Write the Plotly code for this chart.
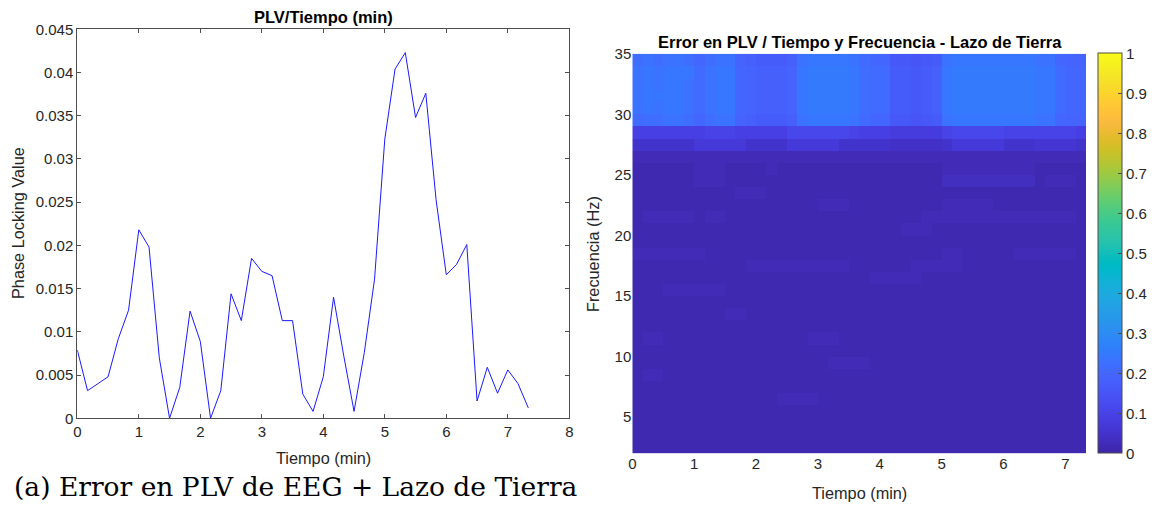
import plotly.graph_objects as go

# ---------------- data ----------------
time_s = [0, 10, 20, 30, 40, 50, 60, 70, 80, 90, 100, 110, 120, 130, 140, 150,
          160, 170, 180, 190, 200, 210, 220, 230, 240, 250, 260, 270, 280, 290,
          300, 310, 320, 330, 340, 350, 360, 370, 380, 390, 400, 410, 420, 430, 440]
plv_e3 = [7.9, 3.2, 4.0, 4.8, 9.2, 12.5, 21.8, 19.8, 7.0, 0.0, 3.6, 12.4, 8.9, 0.0,
          3.2, 14.4, 11.3, 18.5, 17.0, 16.5, 11.3, 11.3, 2.8, 0.8, 4.8, 14.0, 7.2,
          0.8, 7.6, 16.1, 32.3, 40.4, 42.3, 34.8, 37.6, 25.3, 16.6, 17.8, 20.1, 2.0,
          5.9, 2.9, 5.6, 4.0, 1.2]

# heatmap: time edges (s) and frequency edges (Hz)
hm_time_edges_s = [0, 10, 20, 30, 40, 50, 60, 70, 80, 90, 100, 110, 120, 130, 140,
                   150, 160, 170, 180, 190, 200, 210, 220, 230, 240, 250, 260, 270,
                   280, 290, 300, 310, 320, 330, 340, 350, 360, 370, 380, 390, 400,
                   410, 420, 430, 440]
hm_freq_edges = [2, 3, 4, 5, 6, 7, 8, 9, 10, 11, 12, 13, 14, 15, 16, 17, 18, 19, 20,
                 21, 22, 23, 24, 25, 26, 27, 28, 29, 30, 31, 32, 33, 34, 35]

# error values in hundredths, row 0 = 2-3 Hz ... row 32 = 34-35 Hz
err_e2 = [
    [1,1,1,1,1,1,1,1,1,1,1, 1,1,1,1,1,1,1,1,1,1,1, 1,1,1,1,1,1,1,1,1,1,1, 1,1,1,1,1,1,1,1,1,1,1],
    [1,1,1,1,1,1,1,1,1,1,1, 1,1,1,1,1,1,1,1,1,1,1, 1,1,1,1,1,1,1,1,1,1,1, 1,1,1,1,1,1,1,1,1,1,1],
    [1,1,1,1,1,1,1,1,1,1,1, 1,1,1,1,1,1,1,1,1,1,1, 1,1,1,1,1,1,1,1,1,1,1, 1,1,1,1,1,1,1,1,1,1,1],
    [1,1,1,1,1,1,1,1,1,1,1, 1,1,1,1,1,1,1,1,1,1,1, 1,1,1,1,1,1,1,1,1,1,1, 1,1,1,1,1,1,1,1,1,1,1],
    [1,1,1,1,1,1,1,1,1,1,1, 1,1,1,2,2,2,2,1,1,1,1, 1,1,1,1,1,1,1,1,1,1,1, 1,1,1,1,1,1,1,1,1,1,1],
    [1,1,1,1,1,1,1,1,1,1,1, 1,1,1,1,1,1,1,1,1,1,1, 1,1,1,1,1,1,1,1,1,1,1, 1,1,1,1,1,1,1,1,1,1,1],
    [1,2,2,1,1,1,1,1,1,1,1, 1,1,1,1,1,1,1,1,1,1,1, 1,1,1,1,1,1,1,1,1,1,1, 1,1,1,1,1,1,1,1,1,1,1],
    [1,1,1,1,1,1,1,1,1,1,1, 1,1,1,1,1,1,1,1,2,2,2, 2,1,1,1,1,1,1,1,1,1,1, 1,1,1,1,1,1,1,1,1,1,1],
    [1,1,1,1,1,1,1,1,1,1,1, 1,1,1,1,1,1,1,1,1,1,1, 1,1,1,1,1,1,1,1,1,1,1, 1,1,1,1,1,1,1,1,1,1,1],
    [1,2,2,1,1,1,1,1,1,1,1, 1,1,1,1,1,1,2,2,2,1,1, 1,1,1,1,1,1,1,1,1,1,1, 1,1,1,1,1,1,1,1,1,1,1],
    [1,1,1,1,1,1,1,1,1,1,1, 1,1,1,1,1,1,1,1,1,1,1, 1,1,1,1,1,1,1,1,1,1,1, 1,1,1,1,1,1,1,1,1,1,1],
    [1,1,1,1,1,1,1,1,1,2,2, 1,1,1,1,1,1,1,1,1,1,1, 1,1,1,1,1,1,1,1,1,1,1, 1,1,1,1,1,1,1,1,1,1,1],
    [1,1,1,1,1,1,1,1,1,1,1, 1,1,1,1,1,1,1,1,1,1,1, 1,1,1,1,1,1,1,1,1,1,1, 1,1,1,1,1,1,1,1,1,1,1],
    [1,1,1,2,2,2,2,2,2,1,1, 1,1,1,1,1,1,1,1,1,1,1, 1,1,1,1,1,1,1,1,1,1,1, 1,1,1,1,1,1,1,1,1,1,1],
    [1,1,1,1,1,1,1,1,1,1,1, 1,1,1,1,1,1,1,1,1,1,1, 1,2,2,2,2,2,1,1,1,1,1, 1,1,1,1,1,1,1,1,1,1,1],
    [1,1,1,1,1,1,1,1,1,1,1, 2,2,2,2,2,2,2,2,2,2,1, 1,1,1,1,1,2,2,2,2,2,1, 1,1,1,1,1,1,1,1,1,1,1],
    [2,2,2,2,2,2,2,1,1,1,1, 1,1,1,1,1,1,1,1,1,1,1, 1,1,1,1,1,1,1,1,2,2,1, 1,1,1,1,2,2,2,2,2,2,1],
    [1,1,1,1,1,1,1,1,1,1,1, 1,1,1,1,1,1,1,1,1,1,1, 1,1,1,1,1,1,1,1,1,1,1, 1,1,1,1,1,1,1,1,1,1,1],
    [1,1,1,1,1,1,1,1,1,1,1, 1,1,1,1,1,1,1,1,1,1,1, 1,1,1,1,2,2,2,1,1,1,1, 1,1,1,1,1,1,1,1,1,1,1],
    [1,2,2,2,2,2,1,2,2,1,1, 1,1,1,1,1,1,1,1,1,1,1, 1,1,1,1,1,1,2,2,2,2,2, 2,2,2,2,2,2,2,2,2,2,1],
    [1,1,1,1,1,1,1,1,1,1,1, 1,1,1,1,1,1,1,2,2,2,1, 1,1,1,1,1,1,1,1,2,2,2, 2,2,1,1,1,1,1,1,1,1,1],
    [1,1,1,1,1,1,1,1,1,1,2, 2,2,1,1,1,1,1,1,1,1,1, 1,1,1,1,1,1,1,1,1,1,1, 1,1,1,1,1,1,1,1,1,1,1],
    [1,1,1,1,1,1,2,2,2,1,1, 1,1,1,1,1,1,1,1,1,1,1, 1,1,1,1,1,1,1,1,3,3,3, 3,3,3,3,3,3,1,2,2,2,1],
    [1,1,1,1,1,1,2,2,2,1,1, 1,1,2,1,1,1,1,1,1,1,1, 1,1,1,1,1,1,1,1,2,2,2, 2,2,2,2,2,2,1,1,1,1,1],
    [2,2,2,2,2,2,2,2,2,2,2, 2,2,2,2,2,2,2,2,2,2,2, 2,2,2,2,2,2,2,2,2,2,2, 2,2,2,2,2,2,2,2,2,2,2],
    [5,5,5,5,5,5,7,7,7,7,7, 5,5,5,5,7,7,7,7,7,5,5, 5,5,5,4,4,4,4,4,5,7,7, 7,7,7,5,5,5,6,6,6,6,5],
    [9,9,9,9,9,9,9,10,10,10,9, 9,9,9,9,11,11,11,11,11,11,10, 9,9,9,8,8,8,8,8,10,11,11, 11,11,11,10,10,10,10,10,10,10,9],
    [21,22,22,23,23,22,20,22,23,23,19, 18,17,17,17,18,23,24,24,24,24,23, 21,20,20,16,16,15,16,17,23,24,24, 24,24,24,24,24,24,23,23,20,19,19],
    [23,24,23,24,24,23,21,23,24,24,20, 19,18,18,18,19,24,25,25,25,25,24, 22,21,21,17,17,16,17,18,24,25,25, 25,25,25,25,25,25,24,24,21,20,20],
    [23,24,24,24,24,23,21,23,24,24,20, 19,18,18,18,19,24,25,25,25,25,24, 22,21,21,17,17,16,17,18,24,25,25, 25,25,25,25,25,25,24,24,21,20,20],
    [23,24,23,24,24,23,21,23,24,24,20, 19,18,18,18,19,24,25,25,25,25,24, 22,21,21,17,17,16,17,18,24,25,25, 25,25,25,25,25,25,24,24,21,20,20],
    [23,24,23,24,24,24,21,23,24,24,20, 19,18,18,18,19,24,25,25,25,25,24, 22,21,21,17,17,16,17,18,24,25,25, 25,25,25,25,25,25,24,24,21,20,20],
    [22,23,22,23,23,22,20,22,23,23,19, 18,17,17,17,18,23,24,24,24,24,23, 21,20,20,16,16,15,16,17,23,24,24, 24,24,24,24,24,24,23,23,20,19,19],
]

left_xticks = [0, 1, 2, 3, 4, 5, 6, 7, 8]
left_yticks = [0, 0.005, 0.01, 0.015, 0.02, 0.025, 0.03, 0.035, 0.04, 0.045]
right_xticks = [0, 1, 2, 3, 4, 5, 6, 7]
right_yticks = [5, 10, 15, 20, 25, 30, 35]
cbar_ticks = [0, 0.1, 0.2, 0.3, 0.4, 0.5, 0.6, 0.7, 0.8, 0.9, 1]

# ---------------- style ----------------
parula = [
    [0.2422, 0.1504, 0.6603], [0.2504, 0.1650, 0.7076], [0.2578, 0.1818, 0.7511],
    [0.2647, 0.1978, 0.7952], [0.2706, 0.2147, 0.8364], [0.2751, 0.2342, 0.8710],
    [0.2783, 0.2559, 0.8991], [0.2803, 0.2782, 0.9221], [0.2813, 0.3006, 0.9414],
    [0.2810, 0.3228, 0.9579], [0.2795, 0.3447, 0.9717], [0.2760, 0.3667, 0.9829],
    [0.2699, 0.3892, 0.9906], [0.2602, 0.4123, 0.9952], [0.2440, 0.4358, 0.9988],
    [0.2206, 0.4603, 0.9973], [0.1963, 0.4847, 0.9892], [0.1834, 0.5074, 0.9798],
    [0.1786, 0.5289, 0.9682], [0.1764, 0.5499, 0.9520], [0.1687, 0.5703, 0.9359],
    [0.1540, 0.5902, 0.9218], [0.1460, 0.6091, 0.9079], [0.1380, 0.6276, 0.8973],
    [0.1248, 0.6459, 0.8883], [0.1113, 0.6635, 0.8763], [0.0952, 0.6798, 0.8598],
    [0.0689, 0.6948, 0.8394], [0.0297, 0.7082, 0.8163], [0.0036, 0.7203, 0.7917],
    [0.0067, 0.7312, 0.7660], [0.0433, 0.7411, 0.7394], [0.0964, 0.7500, 0.7120],
    [0.1408, 0.7584, 0.6842], [0.1717, 0.7670, 0.6554], [0.1938, 0.7758, 0.6251],
    [0.2161, 0.7843, 0.5923], [0.2470, 0.7918, 0.5567], [0.2906, 0.7973, 0.5188],
    [0.3406, 0.8008, 0.4789], [0.3909, 0.8029, 0.4354], [0.4456, 0.8024, 0.3909],
    [0.5044, 0.7993, 0.3480], [0.5616, 0.7942, 0.3045], [0.6174, 0.7876, 0.2612],
    [0.6720, 0.7793, 0.2227], [0.7242, 0.7698, 0.1910], [0.7738, 0.7598, 0.1646],
    [0.8203, 0.7498, 0.1535], [0.8634, 0.7406, 0.1596], [0.9035, 0.7330, 0.1774],
    [0.9393, 0.7288, 0.2100], [0.9728, 0.7298, 0.2394], [0.9956, 0.7434, 0.2371],
    [0.9970, 0.7659, 0.2199], [0.9952, 0.7893, 0.2028], [0.9892, 0.8136, 0.1885],
    [0.9786, 0.8386, 0.1766], [0.9676, 0.8639, 0.1643], [0.9610, 0.8890, 0.1537],
    [0.9597, 0.9135, 0.1423], [0.9628, 0.9373, 0.1265], [0.9691, 0.9606, 0.1064],
    [0.9769, 0.9839, 0.0805],
]
n = len(parula)
colorscale = [[i / (n - 1), "rgb(%d,%d,%d)" % tuple(round(c * 255) for c in rgb)]
              for i, rgb in enumerate(parula)]

W, H = 1157, 508
FONT = "Liberation Sans, Arial, sans-serif"
AX = "#262626"
LINE_AX = "#4d4d4d"


def px_x(p):
    return p / W


def px_y(p):
    return (H - p) / H


def fmt(v):
    return "%g" % v


time_min = [t / 60 for t in time_s]
plv = [v / 1000 for v in plv_e3]
edges_min = [t / 60 for t in hm_time_edges_s]
err = [[v / 100 for v in row] for row in err_e2]

fig = go.Figure()

fig.add_trace(go.Scatter(
    x=time_min, y=plv, mode="lines",
    line=dict(color="#1a1aff", width=1),
    xaxis="x", yaxis="y", showlegend=False, hoverinfo="skip",
))

fig.add_trace(go.Heatmap(
    x=edges_min, y=hm_freq_edges, z=err,
    colorscale=colorscale, zmin=0, zmax=1, zsmooth=False,
    xaxis="x2", yaxis="y2",
    colorbar=dict(
        x=px_x(1098.3), xanchor="left", xpad=0, ypad=0,
        y=px_y(453.3), yanchor="bottom", len=(453.3 - 53.7) / H, lenmode="fraction",
        thickness=24.4, thicknessmode="pixels",
        outlinewidth=1, outlinecolor=LINE_AX,
        ticks="inside", ticklen=4, tickcolor=LINE_AX,
        tickvals=cbar_ticks, ticktext=[fmt(v) for v in cbar_ticks],
        tickfont=dict(family=FONT, size=15, color=AX),
    ),
))

common_tick = dict(family=FONT, size=15, color=AX)

fig.update_layout(
    template="none",
    width=W, height=H,
    margin=dict(l=0, r=0, t=0, b=0, pad=0, autoexpand=False),
    paper_bgcolor="white", plot_bgcolor="white",
    showlegend=False,
    xaxis=dict(
        domain=[px_x(77.3), px_x(569.3)], range=[0, 8], anchor="y",
        tickvals=left_xticks, ticktext=[fmt(v) for v in left_xticks],
        ticks="inside", ticklen=4, tickcolor=LINE_AX, mirror="allticks",
        showline=True, linecolor=LINE_AX, linewidth=1, automargin=False,
        showgrid=False, zeroline=False, tickfont=common_tick,
    ),
    yaxis=dict(
        domain=[px_y(418.3), px_y(29.3)], range=[0, 0.045], anchor="x",
        tickvals=left_yticks, ticktext=[fmt(v) for v in left_yticks],
        ticks="inside", ticklen=4, tickcolor=LINE_AX, mirror="allticks",
        showline=True, linecolor=LINE_AX, linewidth=1, automargin=False,
        showgrid=False, zeroline=False, tickfont=common_tick,
    ),
    xaxis2=dict(
        domain=[px_x(632.3), px_x(1086)], range=[0, 440 / 60], anchor="y2",
        tickvals=right_xticks, ticktext=[fmt(v) for v in right_xticks],
        ticks="", showline=False, showgrid=False, zeroline=False, automargin=False,
        tickfont=common_tick,
    ),
    yaxis2=dict(
        domain=[px_y(453.3), px_y(53.7)], range=[2, 35], anchor="x2",
        tickvals=right_yticks, ticktext=[fmt(v) for v in right_yticks],
        ticks="", showline=False, showgrid=False, zeroline=False, automargin=False,
        tickfont=common_tick,
    ),
)

ann = []
ann.append(dict(text="<b>PLV/Tiempo (min)</b>", x=px_x(323.5), y=px_y(17),
                font=dict(family=FONT, size=16.5, color="black")))
ann.append(dict(text="<b>Error en PLV / Tiempo y Frecuencia - Lazo de Tierra</b>",
                x=px_x(859.5), y=px_y(41.7),
                font=dict(family=FONT, size=16.5, color="black")))
ann.append(dict(text="Tiempo (min)", x=px_x(323.5), y=px_y(458),
                font=dict(family=FONT, size=16.3, color=AX)))
ann.append(dict(text="Phase Locking Value", x=px_x(18), y=px_y(223),
                textangle=-90, font=dict(family=FONT, size=16.3, color=AX)))
ann.append(dict(text="Tiempo (min)", x=px_x(859.5), y=px_y(493),
                font=dict(family=FONT, size=16.3, color=AX)))
ann.append(dict(text="Frecuencia (Hz)", x=px_x(593), y=px_y(254),
                textangle=-90, font=dict(family=FONT, size=16.3, color=AX)))
for a in ann:
    a.update(xref="paper", yref="paper", xanchor="center", yanchor="middle",
             showarrow=False)
fig.add_annotation(text="(a) Error en PLV de EEG + Lazo de Tierra",
                   x=px_x(12), y=px_y(486), xref="paper", yref="paper",
                   xanchor="left", yanchor="middle", showarrow=False,
                   font=dict(family="DejaVu Serif, serif", size=26.5, color="black"))
for a in ann:
    fig.add_annotation(**a)

fig.write_html("out.html")
